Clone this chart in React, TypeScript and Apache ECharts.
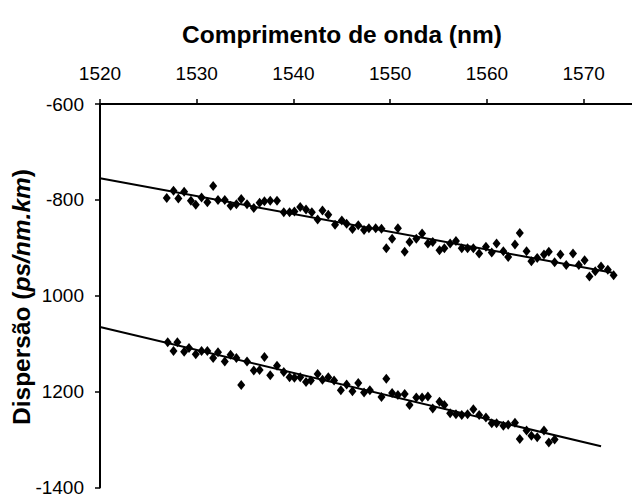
import React, { useEffect, useRef } from "react";
import * as echarts from "echarts";

const xTickValues = [1520, 1530, 1540, 1550, 1560, 1570];
const yTickValues = [-600, -800, -1000, -1200, -1400];
const yTickLabels = ["-600", "-800", "1000", "1200", "-1400"];

const upperWavelength = [
  1526.9, 1527.6, 1528.1, 1528.7, 1529.4, 1529.9, 1530.5, 1531.1, 1531.7, 1532.2,
  1532.9, 1533.5, 1534.1, 1534.6, 1535.2, 1535.9, 1536.5, 1537.0, 1537.6, 1538.3,
  1539.0, 1539.6, 1540.1, 1540.7, 1541.3, 1541.9, 1542.5, 1543.0, 1543.6, 1544.3,
  1545.0, 1545.5, 1546.1, 1546.7, 1547.3, 1547.8, 1548.5, 1549.1, 1549.6, 1550.2,
  1550.8, 1551.5, 1552.0, 1552.7, 1553.3, 1553.9, 1554.4, 1555.1, 1555.6, 1556.2,
  1556.8, 1557.4, 1558.0, 1558.6, 1559.2, 1559.9, 1560.5, 1561.0, 1561.7, 1562.2,
  1562.9, 1563.4, 1564.1, 1564.6, 1565.2, 1565.9, 1566.4, 1567.0, 1567.6, 1568.2,
  1568.9, 1569.5, 1570.1, 1570.6, 1571.2, 1571.8, 1572.5, 1573.1,
];
const upperDispersion = [
  -796, -781, -797, -783, -802, -810, -795, -805, -771, -800,
  -800, -812, -809, -798, -809, -817, -806, -803, -802, -802,
  -826, -826, -824, -815, -820, -826, -841, -822, -831, -852,
  -843, -850, -861, -853, -863, -859, -859, -860, -901, -881,
  -859, -908, -888, -881, -870, -891, -888, -905, -901, -891,
  -886, -901, -901, -901, -912, -898, -910, -891, -907, -919,
  -893, -869, -907, -928, -921, -914, -908, -930, -914, -936,
  -912, -936, -926, -960, -949, -939, -946, -957,
];

const lowerWavelength = [
  1527.0, 1527.6, 1528.0, 1528.7, 1529.2, 1529.9, 1530.5, 1531.1, 1531.7, 1532.2,
  1532.9, 1533.5, 1534.1, 1534.6, 1535.2, 1535.9, 1536.5, 1537.0, 1537.6, 1538.3,
  1539.0, 1539.6, 1540.1, 1540.7, 1541.3, 1541.8, 1542.5, 1543.0, 1543.6, 1544.2,
  1544.9, 1545.5, 1546.1, 1546.7, 1547.3, 1547.9, 1549.1, 1549.6, 1550.2, 1550.8,
  1551.5, 1552.0, 1552.7, 1553.3, 1553.9, 1554.4, 1555.1, 1555.6, 1556.2, 1556.8,
  1557.4, 1558.0, 1558.6, 1559.2, 1559.9, 1560.5, 1561.0, 1561.7, 1562.2, 1562.9,
  1563.4, 1564.1, 1564.6, 1565.2, 1565.9, 1566.4, 1567.0,
];
const lowerDispersion = [
  -1097, -1115, -1097, -1117, -1109, -1122, -1115, -1115, -1130, -1118,
  -1137, -1123, -1130, -1186, -1137, -1156, -1155, -1128, -1166, -1146,
  -1159, -1170, -1171, -1170, -1180, -1177, -1163, -1175, -1170, -1177,
  -1197, -1185, -1199, -1182, -1202, -1197, -1211, -1173, -1203, -1207,
  -1205, -1228, -1212, -1212, -1210, -1235, -1221, -1228, -1245, -1247,
  -1249, -1247, -1237, -1249, -1254, -1266, -1266, -1271, -1269, -1265,
  -1299, -1281, -1292, -1295, -1281, -1306, -1300,
];

const upperFitX = [1520, 1573];
const upperFitY = [-755, -952];
const lowerFitX = [1520, 1571.8];
const lowerFitY = [-1065, -1314];

const FONT = "'Liberation Sans', Arial, sans-serif";

export default function App() {
  const ref = useRef<HTMLDivElement>(null);

  useEffect(() => {
    if (!ref.current) return;
    const chart = echarts.init(ref.current, null, { renderer: "svg" });
    const zip = (xs: number[], ys: number[]) => xs.map((x, i) => [x, ys[i]]);

    chart.setOption({
      animation: false,
      backgroundColor: "#fff",
      grid: { left: 100, right: -7, top: 104, bottom: 5.5, containLabel: false },
      xAxis: {
        type: "value",
        position: "top",
        min: 1520,
        max: 1575,
        interval: 10,
        axisLine: { show: true, onZero: false, lineStyle: { color: "#000", width: 2 } },
        axisTick: { show: true, inside: false, length: 5, lineStyle: { color: "#000", width: 1.5 } },
        axisLabel: {
          color: "#000",
          fontSize: 19,
          fontFamily: FONT,
          margin: 21,
          showMaxLabel: false,
          formatter: (v: number) => (xTickValues.includes(v) ? String(v) : ""),
        },
        splitLine: { show: false },
      },
      yAxis: {
        type: "value",
        min: -1400,
        max: -600,
        interval: 200,
        axisLine: { show: true, onZero: false, lineStyle: { color: "#000", width: 2 } },
        axisTick: { show: true, inside: false, length: 5, lineStyle: { color: "#000", width: 1.5 } },
        axisLabel: {
          color: "#000",
          fontSize: 19,
          fontFamily: FONT,
          margin: 16,
          formatter: (v: number) => {
            const i = yTickValues.indexOf(v);
            return i >= 0 ? yTickLabels[i] : "";
          },
        },
        splitLine: { show: false },
      },
      graphic: [
        {
          type: "text",
          x: 342,
          y: 34,
          style: {
            text: "Comprimento de onda (nm)",
            fontSize: 24.5,
            fontWeight: "bold",
            fontFamily: FONT,
            fill: "#000",
            align: "center",
            verticalAlign: "middle",
          },
        },
        {
          type: "text",
          x: 21,
          y: 297,
          rotation: Math.PI / 2,
          style: {
            text: "{a|Dispersão (}{b|ps/nm.km}{a|)}",
            align: "center",
            verticalAlign: "middle",
            rich: {
              a: { fontSize: 24.5, fontWeight: "bold", fontFamily: FONT, fill: "#000" },
              b: { fontSize: 24.5, fontWeight: "bold", fontStyle: "italic", fontFamily: FONT, fill: "#000" },
            },
          },
        },
      ],
      series: [
        {
          type: "line",
          data: zip(upperFitX, upperFitY),
          showSymbol: false,
          symbol: "none",
          lineStyle: { color: "#000", width: 2 },
          z: 3,
        },
        {
          type: "line",
          data: zip(lowerFitX, lowerFitY),
          showSymbol: false,
          symbol: "none",
          lineStyle: { color: "#000", width: 2 },
          z: 3,
        },
        {
          type: "scatter",
          data: zip(upperWavelength, upperDispersion),
          symbol: "diamond",
          symbolSize: [8, 10],
          itemStyle: { color: "#000", opacity: 1 },
          z: 4,
        },
        {
          type: "scatter",
          data: zip(lowerWavelength, lowerDispersion),
          symbol: "diamond",
          symbolSize: [8, 10],
          itemStyle: { color: "#000", opacity: 1 },
          z: 4,
        },
      ],
    });

    return () => chart.dispose();
  }, []);

  return (
    <div
      ref={ref}
      style={{ position: "fixed", left: 0, top: 0, width: 632, height: 497, background: "#fff" }}
    />
  );
}
